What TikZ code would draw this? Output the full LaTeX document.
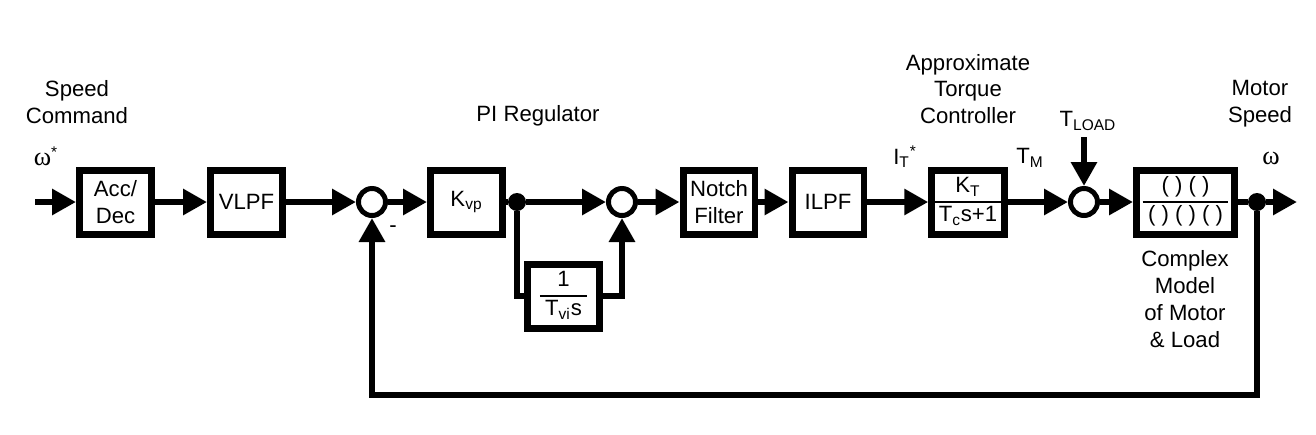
\documentclass[tikz,border=0pt]{standalone}
\usepackage{fontspec}
\setmainfont{Liberation Sans}
\newfontfamily\greekFont{Liberation Serif}
\usetikzlibrary{arrows.meta}
\setlength\arrayrulewidth{1.2pt}

\newcommand*\ctlFrac[2]{%
  \begin{tabular}{@{\hspace{3pt}}c@{\hspace{3pt}}}#1\\\hline #2\end{tabular}}
\newcommand*\ctlOmega{{\greekFont\fontsize{15}{15}\selectfont ω}}

\begin{document}
\begin{tikzpicture}[
  x=0.02cm, y=-0.02cm,
  font=\fontsize{12.6}{15.3}\selectfont,
  ctl line/.style ={line width=0.12cm},
  ctl arrow/.style={ctl line, -{Triangle[length=0.48cm, width=0.5cm]}},
  ctl block/.style={draw, line width=0.14cm, minimum width=1.44cm, minimum height=1.28cm,
                    align=center, inner sep=1pt},
  ctl sum/.style  ={draw, circle, line width=0.1cm, minimum size=0.54cm, inner sep=0pt},
  ctl dot/.style  ={fill, circle, minimum size=0.36cm, inner sep=0pt},
  ctl label/.style={align=center, inner sep=0pt},
]
%%%%%%%%%%%%%%%%%%%%%%%%%%%%%%%%%%%%%%%%%%%%%%%%%%%%%%%%%%%%%%%%%%%%%%%%%%%%%%%%%%%%%%%%%
%
%   BLOCKS
%
%%%%%%%%%%%%%%%%%%%%%%%%%%%%%%%%%%%%%%%%%%%%%%%%%%%%%%%%%%%%%%%%%%%%%%%%%%%%%%%%%%%%%%%%%
\useasboundingbox (0,0) rectangle (1316,434);

\coordinate (cmdIn)  at (35,202);
\node[ctl block] (accDec) at (115.5,202) {Acc/\\Dec};
\node[ctl block] (vlpf)   at (246.5,202) {VLPF};
\node[ctl sum]   (sumSpd) at (372,202)   {};
\node[ctl block] (kvp)    at (466.5,202) {K\textsubscript{vp}};
\node[ctl dot]   (dotPI)  at (517,202)   {};
\node[ctl block] (tvi)    at (563.5,296) {\ctlFrac{1}{T\textsubscript{vi}s}};
\node[ctl sum]   (sumPI)  at (622,202)   {};
\node[ctl block] (notch)  at (719,202)   {Notch\\Filter};
\node[ctl block] (ilpf)   at (828,202)   {ILPF};
\node[ctl block] (kt)     at (968,202)   {\ctlFrac{K\textsubscript{T}}{T\textsubscript{c}s+1}};
\node[ctl sum]   (sumTq)  at (1084,202)  {};
\coordinate (loadIn) at (1084,137);
\node[ctl block, minimum width=1.96cm] (model) at (1185.5,202)
  {\ctlFrac{( ) ( )}{( ) ( ) ( )}};
\node[ctl dot]   (dotOut) at (1257,202)  {};
\coordinate (spdOut) at (1297,202);
\coordinate (fbRight) at (1257,395);
\coordinate (fbLeft)  at (372,395);

%%%%%%%%%%%%%%%%%%%%%%%%%%%%%%%%%%%%%%%%%%%%%%%%%%%%%%%%%%%%%%%%%%%%%%%%%%%%%%%%%%%%%%%%%
%
%   WIRES
%
%%%%%%%%%%%%%%%%%%%%%%%%%%%%%%%%%%%%%%%%%%%%%%%%%%%%%%%%%%%%%%%%%%%%%%%%%%%%%%%%%%%%%%%%%
\draw[ctl arrow] (cmdIn)  -- (accDec);
\draw[ctl arrow] (accDec) -- (vlpf);
\draw[ctl arrow] (vlpf)   -- (sumSpd);
\draw[ctl arrow] (sumSpd) -- (kvp);
\draw[ctl line]  (kvp)    -- (dotPI);
\draw[ctl arrow] (dotPI)  -- (sumPI);
\draw[ctl line]  (dotPI)  |- (tvi.west);
\draw[ctl arrow] (tvi.east) -| (sumPI.south);
\draw[ctl arrow] (sumPI)  -- (notch);
\draw[ctl arrow] (notch)  -- (ilpf);
\draw[ctl arrow] (ilpf)   -- (kt);
\draw[ctl arrow] (kt)     -- (sumTq);
\draw[ctl arrow] (loadIn) -- (sumTq);
\draw[ctl arrow] (sumTq)  -- (model);
\draw[ctl line]  (model)  -- (dotOut);
\draw[ctl arrow] (dotOut) -- (spdOut);
\draw[ctl arrow] (dotOut) -- (fbRight) -- (fbLeft) -- (sumSpd.south);

%% labels
\node[ctl label] (lblCmd)   at (77,102)   {Speed\\Command};
\node[ctl label] (lblWref)  at (46,156)   {\ctlOmega\textsuperscript{*}};
\node[ctl label] (lblMinus) at (393,229)  {-};
\node[ctl label] (lblPI)    at (538,116)  {PI Regulator};
\node[ctl label] (lblTqCtl) at (968,89)   {Approximate\\Torque\\Controller};
\node[ctl label] (lblIt)    at (905,157)  {I\textsubscript{T}\textsuperscript{*}};
\node[ctl label] (lblTm)    at (1030,158) {T\textsubscript{M}};
\node[ctl label] (lblLoad)  at (1088,121) {T\textsubscript{LOAD}};
\node[ctl label] (lblSpd)   at (1260,104) {Motor\\Speed};
\node[ctl label] (lblW)     at (1271,158) {\ctlOmega};
\node[ctl label] (lblModel) at (1185,299) {Complex\\Model\\of Motor\\\& Load};
\end{tikzpicture}
\end{document}
